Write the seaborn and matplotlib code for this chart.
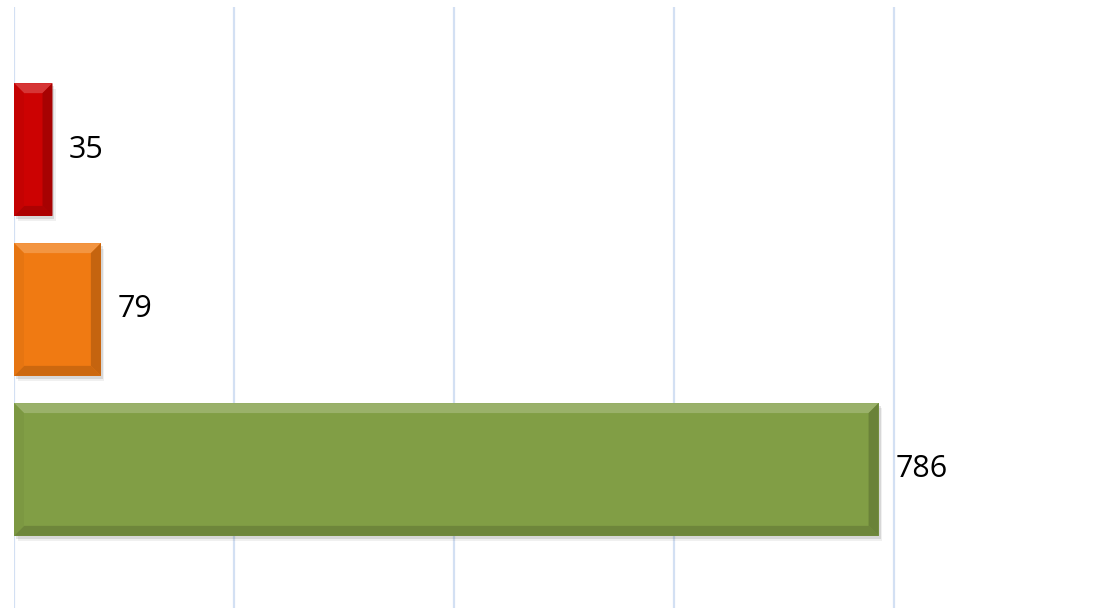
import matplotlib
matplotlib.use("Agg")
import matplotlib.pyplot as plt
from matplotlib.patches import Polygon, Rectangle
from matplotlib.colors import to_rgb
import seaborn as sns
import pandas as pd

# Data
categories = ["High", "Medium", "Low"]
values = [35, 79, 786]
colors = ["#cc0202", "#f07a12", "#819e45"]
grid_ticks = [0, 200, 400, 600, 800]

sns.set_theme(style="white")
plt.rcParams["font.family"] = ["Open Sans", "DejaVu Sans"]

df = pd.DataFrame({"category": categories, "value": values})

fig = plt.figure(figsize=(11, 6.08), dpi=100)
ax = fig.add_axes([14 / 1100, 0.0, 1 - 14 / 1100, 1 - 7 / 608])

sns.barplot(data=df, y="category", x="value", hue="category",
            palette=colors, legend=False, orient="h", width=0.83,
            saturation=1, ax=ax, zorder=3, linewidth=0)

ax.set_xticks(grid_ticks)
ax.set_xlim(0, 987.3)
ax.set_ylim(2.866, -0.891)
ax.xaxis.grid(True, color="#d3e0f3", linewidth=1.6, zorder=0)
ax.yaxis.grid(False)
ax.set_xticklabels([])
ax.set_yticks([])
ax.set_xlabel("")
ax.set_ylabel("")
for s in ax.spines.values():
    s.set_visible(False)
ax.tick_params(length=0)


def shade(c, f):
    r, g, b = to_rgb(c)
    if f >= 0:
        return (r + (1 - r) * f, g + (1 - g) * f, b + (1 - b) * f)
    return (r * (1 + f), g * (1 + f), b * (1 + f))


# Bevelled edges and soft drop shadow for each bar
bx = 10 / 1.1      # bevel width in value units (~10 px)
by = 10 / 160      # bevel height in category units (~10 px)
sx = 2 / 1.1
sy = 3 / 160
for patch, col in zip(ax.patches, colors):
    x0, y0 = patch.get_x(), patch.get_y()
    w, h = patch.get_width(), patch.get_height()
    x1, y1 = x0 + w, y0 + h   # y0 is top (axis inverted), y1 is bottom
    for k, a in ((1.0, 0.10), (1.8, 0.06)):
        ax.add_patch(Rectangle((x0 + sx * k, y0 + sy * k), w, h,
                               facecolor="#000000", alpha=a, linewidth=0,
                               zorder=2))
    top = Polygon([(x0, y0), (x1, y0), (x1 - bx, y0 + by), (x0 + bx, y0 + by)],
                  closed=True, facecolor=shade(col, 0.20), linewidth=0, zorder=4)
    bottom = Polygon([(x0, y1), (x1, y1), (x1 - bx, y1 - by), (x0 + bx, y1 - by)],
                     closed=True, facecolor=shade(col, -0.15), linewidth=0, zorder=4)
    left = Polygon([(x0, y0), (x0 + bx, y0 + by), (x0 + bx, y1 - by), (x0, y1)],
                   closed=True, facecolor=shade(col, -0.04), linewidth=0, zorder=4)
    right = Polygon([(x1, y0), (x1 - bx, y0 + by), (x1 - bx, y1 - by), (x1, y1)],
                    closed=True, facecolor=shade(col, -0.18), linewidth=0, zorder=4)
    for p in (top, bottom, left, right):
        ax.add_patch(p)

for container in ax.containers:
    ax.bar_label(container, labels=[f"{v:g}" for v in container.datavalues],
                 padding=12, fontsize=22, color="#000000")

fig.savefig("out.png", dpi=100, facecolor="white")
